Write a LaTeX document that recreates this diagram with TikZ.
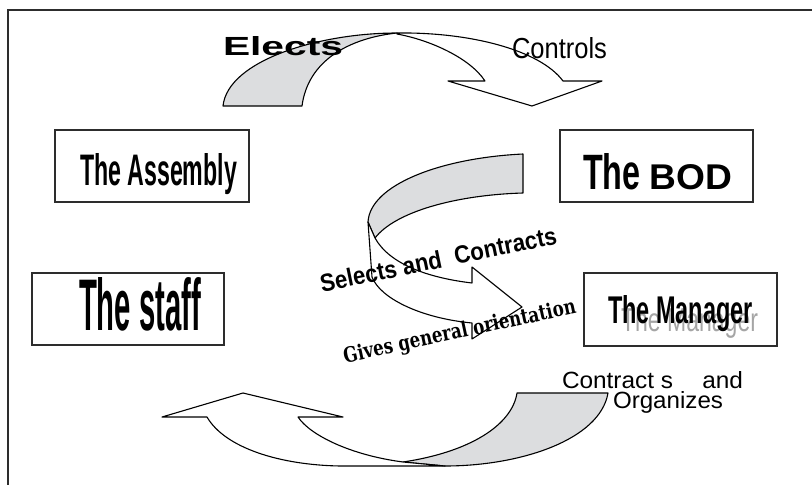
\documentclass[tikz,border=0pt]{standalone}
\usepackage{fontspec}
\setmainfont{Liberation Sans}
\newfontfamily\slabfont{DejaVu Serif}
\usepackage{graphicx}
\definecolor{bandgray}{RGB}{220,221,223}
\definecolor{framegray}{RGB}{45,45,45}
\definecolor{shadowgray}{RGB}{165,165,165}
\newcommand\fitto[3]{\resizebox{#1}{#2}{#3}}
\begin{document}
\begin{tikzpicture}[x=1pt,y=-1pt,
  band/.style={draw=black, line width=1.1pt, line join=round},
  graypart/.style={band, fill=bandgray},
  whitepart/.style={band, fill=white},
  boxnode/.style={draw=framegray, line width=1.3pt, fill=none, inner sep=0pt, minimum width=193pt, minimum height=72pt},
  lbl/.style={inner sep=0pt, outer sep=0pt}]
\useasboundingbox (0,0) rectangle (812,485);
\draw[framegray, line width=2pt] (812,10) -- (7.5,10) -- (7.5,485);

% top arrow
\draw[graypart] (223,106) .. controls (228,60) and (320,33) .. (397,33)
  .. controls (350,38) and (308,60) .. (302,106) -- cycle;
\draw[whitepart] (397,33) .. controls (470,32) and (540,50) .. (563,81)
  -- (602,81) -- (532,106) -- (448,81) -- (485,81)
  .. controls (470,58) and (430,40) .. (397,34) -- cycle;

% middle S arrow
\draw[graypart] (523,154) .. controls (440,158) and (370,185) .. (368,222)
  -- (375,238) .. controls (395,212) and (455,195) .. (523,193) -- cycle;
\draw[whitepart] (368,222) -- (372,277) .. controls (380,298) and (420,318) .. (472,323)
  -- (472,339) -- (522,307) -- (472,267) -- (472,283)
  .. controls (430,278) and (390,265) .. (375,238) -- cycle;

% bottom arrow
\draw[graypart] (517,393) -- (608,393) .. controls (600,440) and (520,466) .. (445,466)
  -- (403,462) .. controls (470,452) and (512,425) .. (517,393) -- cycle;
\draw[whitepart] (403,462) .. controls (350,455) and (310,435) .. (298,417)
  -- (343,417) -- (243,393) -- (162,417) -- (207,417)
  .. controls (225,448) and (280,465) .. (340,466) -- (445,466) -- cycle;

% boxes
\node[boxnode, minimum width=194pt] (assembly) at (152,166) {};
\node[boxnode, minimum width=192pt] (staff) at (128,309) {};
\node[boxnode] (bod) at (656.5,166) {};
\node[boxnode, minimum height=73pt] (manager) at (680.5,309.5) {};

% box texts
\node[lbl, anchor=base west] (assemblytext) at (80,185) {\fitto{157pt}{32pt}{\bfseries The Assembly}};
\node[lbl, anchor=base west] (stafftext) at (79,330) {\fitto{122pt}{53pt}{\bfseries The staff}};
\node[lbl, anchor=base west] (bodtext) at (583,189) {\fitto{149pt}{36pt}{\bfseries The \scalebox{1.15}[0.72]{BOD}}};
\node[lbl, anchor=base west, text=shadowgray] (managershadow) at (621,331) {\fitto{137pt}{24pt}{The Manager}};
\node[lbl, anchor=base west] (managertext) at (608,323) {\fitto{145pt}{28pt}{\bfseries The Manager}};

% arrow labels
\node[lbl, anchor=base west] (elects) at (223,55) {\fitto{120pt}{19pt}{\bfseries Elects}};
\node[lbl, anchor=base west] (controls) at (512,58) {\fitto{95pt}{21pt}{Controls}};
\node[lbl, anchor=base, rotate=11.7] (selects) at (440,268) {\fitto{241pt}{18pt}{\bfseries Selects and\hspace{0.6em}Contracts}};
\node[lbl, anchor=base, rotate=12.2] (gives) at (461,338) {\fitto{237pt}{16pt}{\slabfont\bfseries Gives general orientation}};
\node[lbl, anchor=base west] (contracts) at (562,388) {\fitto{181pt}{17pt}{Contract s\hspace{1.2em}and}};
\node[lbl, anchor=base west] (organizes) at (613,408) {\fitto{110pt}{17pt}{Organizes}};
\end{tikzpicture}
\end{document}
